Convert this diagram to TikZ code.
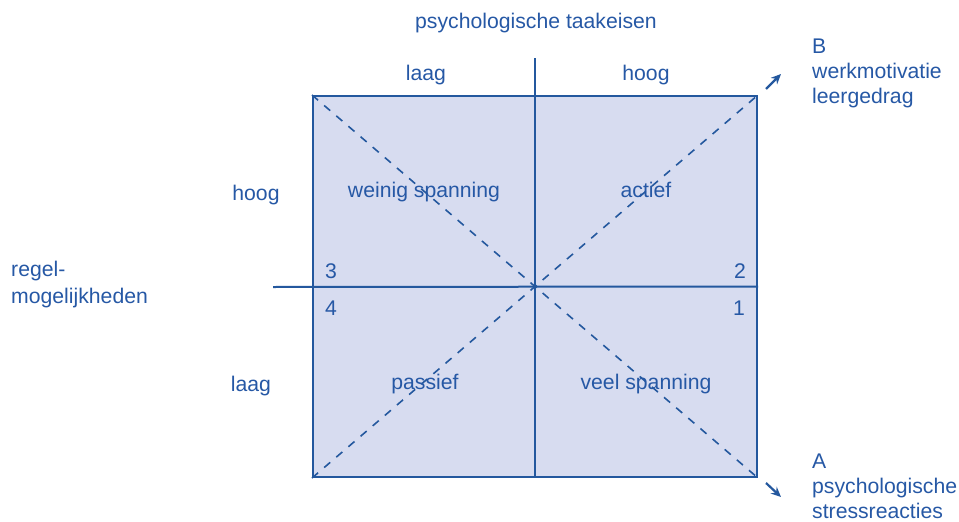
\documentclass[tikz,border=0pt]{standalone}
\usepackage{fontspec}
\setmainfont{Liberation Sans}
\usepackage{xcolor}
\definecolor{txtblue}{RGB}{38, 88, 165}
\definecolor{lineblue}{RGB}{36, 88, 158}
\definecolor{vlakfill}{RGB}{215, 220, 240}
\usetikzlibrary{arrows.meta, positioning}

\begin{document}
\begin{tikzpicture}[x=1pt, y=-1pt,
        lbl/.style={font=\fontsize{21.2}{25}\selectfont, text=txtblue, inner sep=0pt, anchor=base},
        lbll/.style={lbl, align=left, anchor=base west},
        vlak/.style={rectangle, draw=lineblue, fill=vlakfill, line width=2pt, minimum width=444pt, minimum height=381pt, inner sep=0pt},
        as/.style={draw=lineblue, line width=2pt},
        diag/.style={draw=lineblue, line width=1.6pt, dash pattern=on 8pt off 8pt},
        pijl/.style={draw=lineblue, line width=2.2pt, -{Stealth[length=10pt, width=9pt]}}]

        \useasboundingbox (0,0) rectangle (959,522);

        % kwadrant
        \node [vlak] (vlak) at (535,286.5) {};
        \coordinate (boven) at (535,58);
        \coordinate (links) at (273,287);
        \draw [as] (boven) -- (vlak.south);
        \draw [as] (links) -- (vlak.east);
        \draw [diag] (vlak.south west) -- (vlak.north east);
        \draw [diag] (vlak.north west) -- (vlak.south east);

        % pijlen naar B en A
        \coordinate (b0) at (766,89);
        \coordinate (b1) at (781,74);
        \coordinate (a0) at (766,483);
        \coordinate (a1) at (781,497);
        \draw [pijl] (b0) -- (b1);
        \draw [pijl] (a0) -- (a1);

        % assen
        \node [lbl] (taak) at (536,28) {psychologische taakeisen};
        \node [lbl] (tlaag) at (426,80) {laag};
        \node [lbl] (thoog) at (646,80) {hoog};
        \node [lbl] (rhoog) at (256,200) {hoog};
        \node [lbl] (rlaag) at (251,391) {laag};
        \node [lbll] (regel) at (11,303) {regel-\\[2pt]mogelijkheden};

        % kwadranten
        \node [lbl] (weinig) at (424,197) {weinig spanning};
        \node [lbl] (actief) at (646,197) {actief};
        \node [lbl] (passief) at (425,389) {passief};
        \node [lbl] (veel) at (646,389) {veel spanning};
        \node [lbl] (k3) at (331,278) {3};
        \node [lbl] (k4) at (331,315) {4};
        \node [lbl] (k2) at (740,278) {2};
        \node [lbl] (k1) at (739,315) {1};

        % uitkomsten
        \node [lbll] (B) at (812,103) {B\\werkmotivatie\\leergedrag};
        \node [lbll] (A) at (812,518) {A\\psychologische\\stressreacties};
    \end{tikzpicture}
\end{document}
